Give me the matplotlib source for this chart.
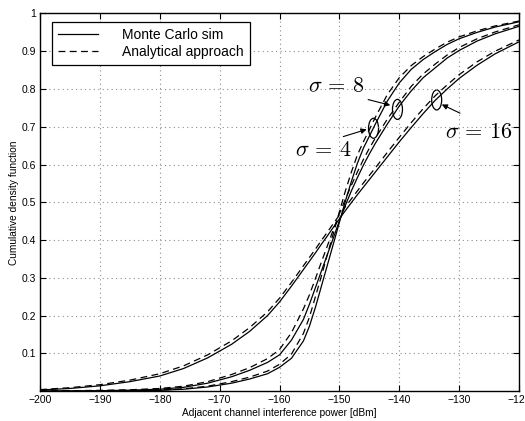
import matplotlib

matplotlib.use("Agg")
import matplotlib.pyplot as plt
from matplotlib.patches import Ellipse

plt.rcParams["font.family"] = ["Liberation Sans", "DejaVu Sans"]
plt.rcParams["mathtext.fontset"] = "cm"

# interference power grid [dBm]
power_dbm = [-200, -195, -190, -185, -180, -176, -172, -168, -165, -162, -160,
             -158, -156, -155, -154, -153, -152, -151, -150, -149, -148, -147,
             -146, -145, -144, -142, -140, -138, -136, -134, -132, -130, -127,
             -124, -120]

# Monte Carlo CDFs
mc_sigma4 = [0.0, 0.0, 0.0003, 0.001, 0.002, 0.005, 0.011, 0.021, 0.032, 0.046,
             0.063, 0.087, 0.133, 0.172, 0.222, 0.278, 0.334, 0.39, 0.447,
             0.503, 0.555, 0.603, 0.643, 0.675, 0.707, 0.768, 0.816, 0.852,
             0.878, 0.899, 0.918, 0.933, 0.950, 0.964, 0.978]
mc_sigma8 = [0.0, 0.0005, 0.001, 0.0025, 0.005, 0.010, 0.021, 0.038, 0.055,
             0.076, 0.096, 0.135, 0.19, 0.23, 0.274, 0.318, 0.362, 0.406, 0.451,
             0.492, 0.53, 0.565, 0.598, 0.628, 0.656, 0.707, 0.755, 0.795, 0.83,
             0.856, 0.882, 0.902, 0.927, 0.946, 0.966]
mc_sigma16 = [0.003, 0.007, 0.014, 0.025, 0.040, 0.060, 0.088, 0.124, 0.158,
              0.200, 0.236, 0.278, 0.322, 0.344, 0.366, 0.389, 0.411, 0.434,
              0.456, 0.478, 0.499, 0.52, 0.54, 0.56, 0.58, 0.62, 0.66, 0.698,
              0.735, 0.77, 0.80, 0.828, 0.863, 0.893, 0.925]

# analytical CDFs
an_sigma4 = [0.0, 0.0, 0.0005, 0.0015, 0.003, 0.006, 0.013, 0.025, 0.037, 0.053,
             0.071, 0.098, 0.153, 0.196, 0.25, 0.305, 0.362, 0.418, 0.475, 0.53,
             0.58, 0.625, 0.66, 0.692, 0.725, 0.785, 0.83, 0.862, 0.886, 0.906,
             0.924, 0.938, 0.954, 0.967, 0.98]
an_sigma8 = [0.0, 0.001, 0.002, 0.0035, 0.007, 0.013, 0.025, 0.044, 0.062, 0.086,
             0.11, 0.155, 0.218, 0.255, 0.298, 0.342, 0.385, 0.428, 0.47, 0.508,
             0.545, 0.58, 0.613, 0.643, 0.67, 0.72, 0.765, 0.807, 0.84, 0.866,
             0.89, 0.91, 0.933, 0.951, 0.97]
an_sigma16 = [0.004, 0.009, 0.017, 0.029, 0.046, 0.067, 0.096, 0.133, 0.168,
              0.210, 0.246, 0.288, 0.332, 0.354, 0.376, 0.399, 0.421, 0.444,
              0.466, 0.488, 0.509, 0.53, 0.551, 0.571, 0.591, 0.632, 0.672,
              0.711, 0.748, 0.782, 0.811, 0.838, 0.872, 0.90, 0.93]

x_ticks = list(range(-200, -119, 10))
y_ticks = [0.1, 0.2, 0.3, 0.4, 0.5, 0.6, 0.7, 0.8, 0.9, 1.0]
y_tick_labels = ["0.1", "0.2", "0.3", "0.4", "0.5", "0.6", "0.7", "0.8", "0.9", "1"]

fig = plt.figure(figsize=(5.25, 4.21), dpi=100)
ax = fig.add_axes([0.0762, 0.071, 0.9124, 0.897])

dash = (0, (5.5, 3.5))
for mc, an in ((mc_sigma4, an_sigma4), (mc_sigma8, an_sigma8),
               (mc_sigma16, an_sigma16)):
    ax.plot(power_dbm, mc, color="black", lw=0.9)
    ax.plot(power_dbm, an, color="black", lw=0.9, linestyle=dash)

# legend proxies
ax.plot([], [], color="black", lw=0.9, label="Monte Carlo sim")
ax.plot([], [], color="black", lw=0.9, linestyle=dash, label="Analytical approach")

ax.set_xlim(-200, -120)
ax.set_ylim(0, 1)
ax.set_xticks(x_ticks)
ax.set_yticks(y_ticks, labels=y_tick_labels)
ax.tick_params(direction="in", top=True, right=True, length=4, width=0.8,
               labelsize=7.5, pad=3)
ax.grid(True, color="0.55", linestyle=(0, (1, 3)), lw=0.8)
for spine in ax.spines.values():
    spine.set_linewidth(1.0)

ax.set_xlabel("Adjacent channel interference power [dBm]", fontsize=7.3, labelpad=2)
ax.set_ylabel("Cumulative density function", fontsize=7.3, labelpad=2)

handles, labels = ax.get_legend_handles_labels()
leg = ax.legend(handles[-2:], labels[-2:], loc="upper left",
                bbox_to_anchor=(0.024, 0.978), borderaxespad=0, fontsize=10,
                fancybox=False, framealpha=1, edgecolor="black",
                handlelength=2.9, handletextpad=1.7, labelspacing=0.22,
                borderpad=0.45)
leg.get_frame().set_linewidth(0.9)

# sigma markers: ellipse around each curve pair, arrow and label
markers = [
    (r"$\sigma\,=\,4$", (-144.3, 0.696), (-145.45, 0.693), (-149.35, 0.674), (-152.7, 0.636)),
    (r"$\sigma\,=\,8$", (-140.3, 0.746), (-141.5, 0.757), (-145.2, 0.772), (-150.5, 0.806)),
    (r"$\sigma\,=\,16$", (-133.75, 0.771), (-132.9, 0.759), (-129.85, 0.736), (-126.65, 0.685)),
]
for label, center, head, tail, text_pos in markers:
    ax.add_patch(Ellipse(center, width=1.67, height=0.053, fill=False,
                         edgecolor="black", lw=0.9))
    ax.annotate("", xy=head, xytext=tail,
                arrowprops=dict(arrowstyle="-|>", color="black", lw=0.8,
                                mutation_scale=8, shrinkA=0, shrinkB=0))
    ax.text(*text_pos, label, fontsize=16, ha="center", va="center")

fig.savefig("out.png", dpi=100)
